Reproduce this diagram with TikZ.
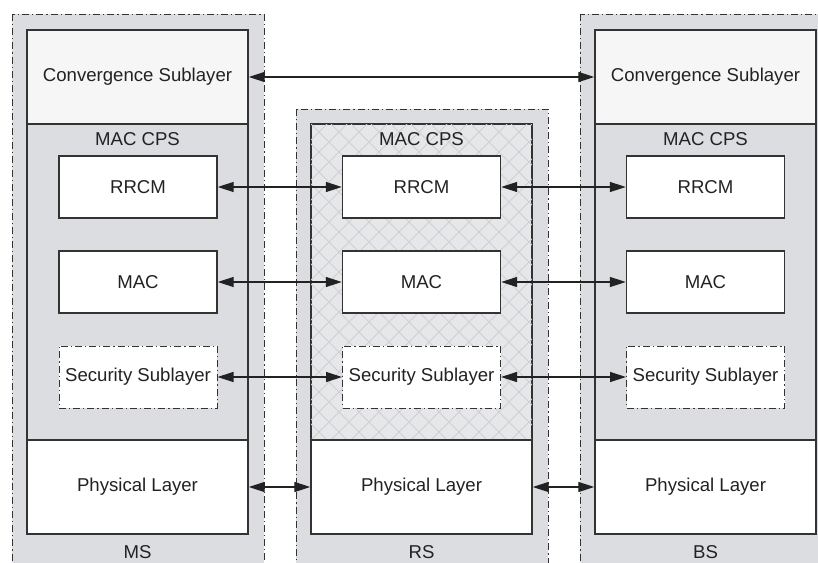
\documentclass[tikz,border=0pt]{standalone}
\usepackage{fontspec}
\setmainfont{Liberation Sans}
\usetikzlibrary{arrows.meta}

\definecolor{stationgray}{HTML}{DCDDE0}
\definecolor{csfill}{HTML}{F6F6F6}
\definecolor{hatchbg}{HTML}{E6E7E9}
\definecolor{hatchline}{HTML}{D0D0D4}
\definecolor{edge}{HTML}{333333}
\definecolor{ink}{HTML}{222222}

\tikzset{
  station/.style={draw=edge, line width=1pt, fill=stationgray,
    dash pattern=on 7pt off 3pt on 1.2pt off 3pt},
  layer/.style={draw=edge, line width=1.4pt, minimum width=221pt,
    inner sep=0pt, text=ink},
  sub/.style={draw=edge, line width=1.4pt, fill=white, minimum width=158pt,
    minimum height=62pt, inner sep=0pt, text=ink},
  subdash/.style={sub, line width=1pt, dash pattern=on 7pt off 3pt on 1.2pt off 3pt},
  lbl/.style={text=ink, inner sep=0pt},
  link/.style={draw=ink, line width=1.3pt,
    {Triangle[length=16pt,width=10pt]}-{Triangle[length=16pt,width=10pt]}},
}

\begin{document}
\begin{tikzpicture}[x=1pt, y=-1pt, font=\fontsize{18.6}{22}\selectfont]
  \useasboundingbox (0,0) rectangle (818,562);
  \clip (0,0) rectangle (818,562);

  % station outlines (open towards the bottom)
  \path[station] (12,14) rectangle (264,580);
  \path[station] (296,109) rectangle (548,580);
  \path[station] (580,14) rectangle (840,580);

  % ---------- MS ----------
  \node[layer, fill=csfill, minimum height=94pt] (mscs) at (137.5,77) {Convergence Sublayer};
  \node[layer, fill=stationgray, minimum height=316pt] (mscps) at (137.5,282) {};
  \node[layer, fill=white, minimum height=94pt] (msphy) at (137.5,487) {Physical Layer};
  \node[lbl] (mscpsl) at (137.5,139.5) {MAC CPS};
  \node[sub] (msrrcm) at (138,187) {RRCM};
  \node[sub] (msmac) at (138,282) {MAC};
  \node[subdash] (mssec) at (138,377) {Security Sublayer};
  \node[lbl] (msl) at (137.5,552) {MS};

  % ---------- RS ----------
  \node[layer, fill=hatchbg, minimum height=316pt] (rscps) at (421.5,282) {};
  \begin{scope}
    \clip (311,124) rectangle (532,440);
    \foreach \k in {-24,...,24}
      \draw[hatchline, line width=1pt] (311+20*\k,124) -- ++(316,316)
                                       (311+20*\k,440) -- ++(316,-316);
  \end{scope}
  \draw[edge, line width=1.4pt] (rscps.south west) rectangle (rscps.north east);
  \node[layer, fill=white, minimum height=94pt] (rsphy) at (421.5,487) {Physical Layer};
  \node[lbl] (rscpsl) at (421.5,139.5) {MAC CPS};
  \node[sub] (rsrrcm) at (421.5,187) {RRCM};
  \node[sub] (rsmac) at (421.5,282) {MAC};
  \node[subdash] (rssec) at (421.5,377) {Security Sublayer};
  \node[lbl] (rsl) at (421.5,552) {RS};

  % ---------- BS ----------
  \node[layer, fill=csfill, minimum height=94pt] (bscs) at (705.5,77) {Convergence Sublayer};
  \node[layer, fill=stationgray, minimum height=316pt] (bscps) at (705.5,282) {};
  \node[layer, fill=white, minimum height=94pt] (bsphy) at (705.5,487) {Physical Layer};
  \node[lbl] (bscpsl) at (705.5,139.5) {MAC CPS};
  \node[sub] (bsrrcm) at (705.5,187) {RRCM};
  \node[sub] (bsmac) at (705.5,282) {MAC};
  \node[subdash] (bssec) at (705.5,377) {Security Sublayer};
  \node[lbl] (bsl) at (705.5,552) {BS};

  % ---------- peer links ----------
  \draw[link] (mscs.east) -- (bscs.west);
  \draw[link] (msrrcm.east) -- (rsrrcm.west);
  \draw[link] (rsrrcm.east) -- (bsrrcm.west);
  \draw[link] (msmac.east) -- (rsmac.west);
  \draw[link] (rsmac.east) -- (bsmac.west);
  \draw[link] (mssec.east) -- (rssec.west);
  \draw[link] (rssec.east) -- (bssec.west);
  \draw[link] (msphy.east) -- (rsphy.west);
  \draw[link] (rsphy.east) -- (bsphy.west);
\end{tikzpicture}
\end{document}
